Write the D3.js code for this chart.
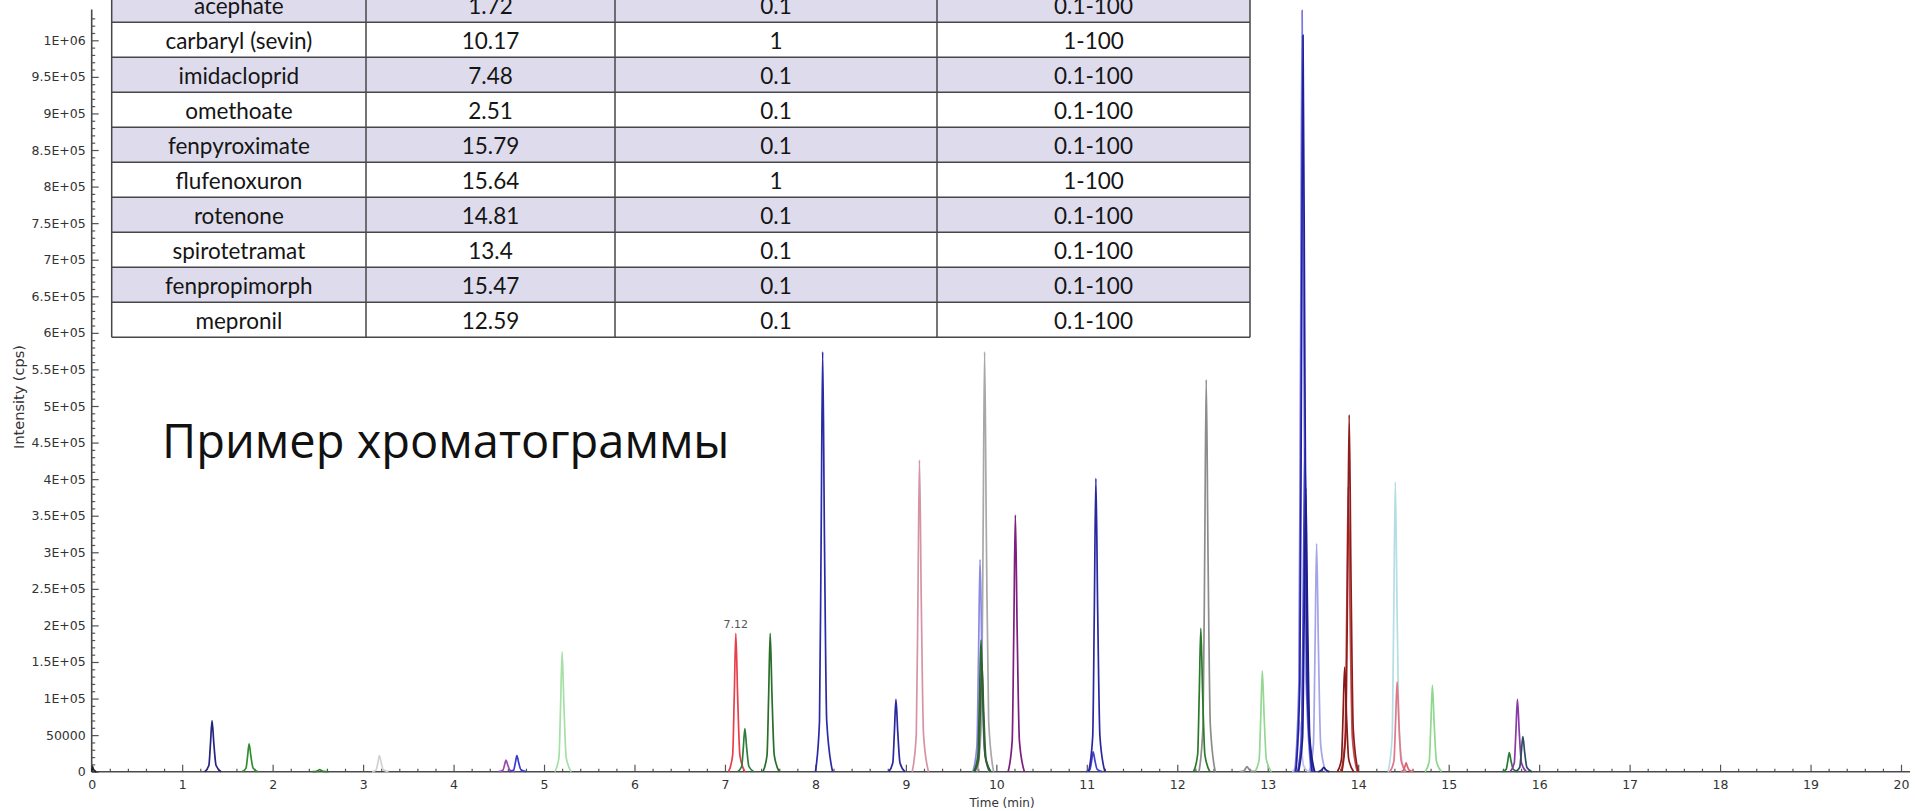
<!DOCTYPE html>
<html>
<head>
<meta charset="utf-8">
<script src="https://cdn.jsdelivr.net/npm/d3@7"></script>
<style>
  body { margin: 0; background: #fff; }
</style>
</head>
<body>
<div id="chart"></div>
<script>
// Table of compounds (the header rows are cut off in the original slide)
const compounds = ["acephate", "carbaryl (sevin)", "imidacloprid", "omethoate", "fenpyroximate",
                   "flufenoxuron", "rotenone", "spirotetramat", "fenpropimorph", "mepronil"];
const retentionTimes = ["1.72", "10.17", "7.48", "2.51", "15.79", "15.64", "14.81", "13.4", "15.47", "12.59"];
const loqValues = ["0.1", "1", "0.1", "0.1", "0.1", "1", "0.1", "0.1", "0.1", "0.1"];
const linearRanges = ["0.1-100", "1-100", "0.1-100", "0.1-100", "0.1-100", "1-100", "0.1-100", "0.1-100", "0.1-100", "0.1-100"];

// Axis ticks
const xTickValues = d3.range(0, 21);
const yTickLabels = ["0", "50000", "1E+05", "1.5E+05", "2E+05", "2.5E+05", "3E+05", "3.5E+05", "4E+05",
                     "4.5E+05", "5E+05", "5.5E+05", "6E+05", "6.5E+05", "7E+05", "7.5E+05", "8E+05",
                     "8.5E+05", "9E+05", "9.5E+05", "1E+06"];

// Annotated peak
const labelTimes = [7.12];
const labelValues = [189e3];

// Chromatogram traces, points: [time (min), intensity (cps)]
const tracePoints = [
  [[0,0],[0.01,7e3],[0.02,3e3],[0.05,0]],
  [[3.10,0],[3.145,2.6e3],[3.163,12.1e3],[3.18,22e3],[3.20,12.1e3],[3.225,2.6e3],[3.28,0]],
  [[5.12,0],[5.165,19.7e3],[5.183,90.2e3],[5.20,164e3],[5.22,90.2e3],[5.245,19.7e3],[5.30,0]],
  [[12.86,0],[12.905,16.6e3],[12.923,75.9e3],[12.94,138e3],[12.96,75.9e3],[12.985,16.6e3],[13.04,0]],
  [[14.74,0],[14.785,14.2e3],[14.803,64.9e3],[14.82,118e3],[14.84,64.9e3],[14.865,14.2e3],[14.92,0]],
  [[14.33,0],[14.375,47.5e3],[14.393,217.8e3],[14.41,396e3],[14.43,217.8e3],[14.455,47.5e3],[14.51,0]],
  [[9.79,0],[9.835,68.9e3],[9.853,315.7e3],[9.87,574e3],[9.89,315.7e3],[9.915,68.9e3],[9.97,0]],
  [[9.07,0],[9.115,51.1e3],[9.133,234.3e3],[9.15,426e3],[9.17,234.3e3],[9.195,51.1e3],[9.25,0]],
  [[13.27,0],[13.315,8.4e3],[13.333,38.5e3],[13.35,70e3],[13.37,38.5e3],[13.395,8.4e3],[13.45,0]],
  [[13.46,0],[13.505,37.4e3],[13.523,171.6e3],[13.54,312e3],[13.56,171.6e3],[13.585,37.4e3],[13.64,0]],
  [[13.30,0],[13.345,124.9e3],[13.363,572.6e3],[13.38,1041e3],[13.40,572.6e3],[13.425,124.9e3],[13.48,0]],
  [[9.74,0],[9.785,34.8e3],[9.803,159.5e3],[9.82,290e3],[9.84,159.5e3],[9.865,34.8e3],[9.92,0]],
  [[1.25,0],[1.295,8.4e3],[1.313,38.5e3],[1.33,70e3],[1.35,38.5e3],[1.375,8.4e3],[1.43,0]],
  [[1.66,0],[1.705,4.6e3],[1.723,20.9e3],[1.74,38e3],[1.76,20.9e3],[1.785,4.6e3],[1.84,0]],
  [[2.44,0],[2.485,0.4e3],[2.503,1.6e3],[2.52,3e3],[2.54,1.6e3],[2.565,0.4e3],[2.62,0]],
  [[4.50,0],[4.545,1.9e3],[4.563,8.8e3],[4.58,16e3],[4.60,8.8e3],[4.625,1.9e3],[4.68,0]],
  [[4.62,0],[4.665,2.6e3],[4.683,12.1e3],[4.70,22e3],[4.72,12.1e3],[4.745,2.6e3],[4.80,0]],
  [[7.04,0],[7.085,22.7e3],[7.103,104e3],[7.12,189e3],[7.14,104e3],[7.165,22.7e3],[7.22,0]],
  [[7.14,0],[7.185,7.1e3],[7.203,32.5e3],[7.22,59e3],[7.24,32.5e3],[7.265,7.1e3],[7.32,0]],
  [[7.42,0],[7.465,22.7e3],[7.483,104e3],[7.50,189e3],[7.52,104e3],[7.545,22.7e3],[7.60,0]],
  [[8.00,0],[8.045,68.9e3],[8.063,315.7e3],[8.08,574e3],[8.10,315.7e3],[8.125,68.9e3],[8.19,0]],
  [[8.81,0],[8.855,11.9e3],[8.873,54.5e3],[8.89,99e3],[8.91,54.5e3],[8.935,11.9e3],[8.99,0]],
  [[9.75,0],[9.795,21.6e3],[9.813,99e3],[9.83,180e3],[9.85,99e3],[9.875,21.6e3],[9.93,0]],
  [[9.76,0],[9.805,18e3],[9.823,82.5e3],[9.84,150e3],[9.86,82.5e3],[9.885,18e3],[9.94,0]],
  [[10.13,0],[10.175,42.1e3],[10.193,193e3],[10.21,351e3],[10.23,193e3],[10.255,42.1e3],[10.31,0]],
  [[10.99,0],[11.035,3.2e3],[11.053,14.9e3],[11.07,27e3],[11.09,14.9e3],[11.115,3.2e3],[11.17,0]],
  [[11.02,0],[11.065,48.1e3],[11.083,220.6e3],[11.10,401e3],[11.12,220.6e3],[11.145,48.1e3],[11.20,0]],
  [[12.24,0],[12.285,64.3e3],[12.303,294.8e3],[12.32,536e3],[12.34,294.8e3],[12.365,64.3e3],[12.42,0]],
  [[12.18,0],[12.225,23.5e3],[12.243,107.8e3],[12.26,196e3],[12.28,107.8e3],[12.305,23.5e3],[12.36,0]],
  [[12.69,0],[12.735,0.8e3],[12.753,3.9e3],[12.77,7e3],[12.79,3.9e3],[12.815,0.8e3],[12.87,0]],
  [[13.33,0],[13.375,53e3],[13.393,243.1e3],[13.41,442e3],[13.43,243.1e3],[13.455,53e3],[13.51,0]],
  [[13.31,0],[13.355,120.8e3],[13.373,553.9e3],[13.39,1007e3],[13.41,553.9e3],[13.435,120.8e3],[13.49,0]],
  [[13.34,0],[13.385,46.6e3],[13.403,213.4e3],[13.42,388e3],[13.44,213.4e3],[13.465,46.6e3],[13.52,0]],
  [[13.56,0],[13.60,3e3],[13.62,6e3],[13.64,3e3],[13.68,0]],
  [[13.81,0],[13.855,46.8e3],[13.873,214.5e3],[13.89,390e3],[13.91,214.5e3],[13.935,46.8e3],[13.99,0]],
  [[13.82,0],[13.865,58.6e3],[13.883,268.4e3],[13.90,488e3],[13.92,268.4e3],[13.945,58.6e3],[14.00,0]],
  [[13.77,0],[13.815,17.2e3],[13.833,78.7e3],[13.85,143e3],[13.87,78.7e3],[13.895,17.2e3],[13.95,0]],
  [[14.35,0],[14.395,14.8e3],[14.413,67.7e3],[14.43,123e3],[14.45,67.7e3],[14.475,14.8e3],[14.53,0]],
  [[14.47,0],[14.50,2e3],[14.515,6.6e3],[14.53,12e3],[14.545,6.6e3],[14.565,2e3],[14.61,0]],
  [[15.59,0],[15.635,3.1e3],[15.653,14.3e3],[15.67,26e3],[15.69,14.3e3],[15.715,3.1e3],[15.77,0]],
  [[15.68,0],[15.725,11.9e3],[15.743,54.5e3],[15.76,99e3],[15.78,54.5e3],[15.805,11.9e3],[15.86,0]],
  [[15.74,0],[15.785,5.8e3],[15.803,26.4e3],[15.82,48e3],[15.84,26.4e3],[15.865,5.8e3],[15.92,0]]
];
const traceColors = [
  "#222222", "#d2d2d2", "#a6e0a6", "#94d894", "#90d890", "#b4dde6", "#a8a8a8", "#d494a6",
  "#c0c0f2", "#a4a4ea", "#7878e4", "#8a8ae6", "#24247e", "#2f8f2f", "#2f7f2f", "#9a4ab0",
  "#3a3ad0", "#e8404a", "#2e7d3a", "#2a6e2a", "#2a2aa8", "#2828a0", "#2a6a2a", "#355e35",
  "#7e1e7e", "#4040d0", "#2828a0", "#8c8c8c", "#2a7a2a", "#888888", "#4848d8", "#20209e",
  "#1e1e8a", "#1e1e8a", "#c05050", "#901c1c", "#8a1818", "#e07888", "#e06070", "#2a7a3a",
  "#8a3aa8", "#2e4e5e"
];

const width = 1915;
const height = 811;

const svg = d3.select("#chart").append("svg")
    .attr("width", width)
    .attr("height", height)
    .style("display", "block")
    .style("background", "#fff");

const x = d3.scaleLinear().domain([0, 20]).range([91.7, 1901]);
const y = d3.scaleLinear().domain([0, 1e6]).range([771.7, 40.3]);

// --- axes ---
const tickFont = "DejaVu Sans, Verdana, sans-serif";

const xAxis = svg.append("g")
    .attr("transform", `translate(0,${y(0)})`)
    .call(d3.axisBottom(x).tickValues(xTickValues).tickSize(-7).tickPadding(8).tickFormat(d3.format("d")));

const xMinor = svg.append("g")
    .attr("transform", `translate(0,${y(0)})`)
    .call(d3.axisBottom(x)
        .tickValues(d3.range(0, 20.01, 0.2).filter(d => Math.abs(d - Math.round(d)) > 0.01))
        .tickSize(-3).tickFormat(""));

const yAxis = svg.append("g")
    .attr("transform", `translate(${x(0)},0)`)
    .call(d3.axisLeft(y).tickValues(d3.range(0, 1e6 + 1, 5e4)).tickSize(-7).tickPadding(6)
        .tickFormat((d, i) => yTickLabels[i]));

const yMinor = svg.append("g")
    .attr("transform", `translate(${x(0)},0)`)
    .call(d3.axisLeft(y)
        .tickValues(d3.range(0, 1.04e6, 1e4).filter(d => d % 5e4 !== 0))
        .tickSize(-3.5).tickFormat(""));

[xAxis, xMinor, yAxis, yMinor].forEach(g => {
    g.select(".domain").remove();
    g.selectAll(".tick line").attr("stroke", "#555").attr("stroke-width", 1.2);
    g.selectAll("text")
        .style("font-family", tickFont)
        .style("font-size", "12.5px")
        .attr("fill", "#333");
});

// axis lines
svg.append("line")
    .attr("x1", x(0)).attr("x2", 1910)
    .attr("y1", y(0)).attr("y2", y(0))
    .attr("stroke", "#4a4a4a").attr("stroke-width", 1.6);
svg.append("line")
    .attr("x1", x(0)).attr("x2", x(0))
    .attr("y1", y(0)).attr("y2", y(1.042e6))
    .attr("stroke", "#4a4a4a").attr("stroke-width", 1.6);

svg.append("text")
    .attr("x", 1002)
    .attr("y", 807)
    .attr("text-anchor", "middle")
    .style("font-family", tickFont)
    .style("font-size", "12px")
    .attr("fill", "#333")
    .text("Time (min)");

svg.append("text")
    .attr("transform", "translate(24,397) rotate(-90)")
    .attr("text-anchor", "middle")
    .style("font-family", tickFont)
    .style("font-size", "14.5px")
    .attr("fill", "#333")
    .text("Intensity (cps)");

// --- chromatogram traces ---
const line = d3.line()
    .x(d => x(d[0]))
    .y(d => y(d[1]))
    .curve(d3.curveMonotoneX);

svg.append("g")
    .selectAll("path")
    .data(tracePoints)
    .join("path")
    .attr("d", line)
    .attr("fill", "none")
    .attr("stroke", (d, i) => traceColors[i])
    .attr("stroke-width", 1.7)
    .attr("stroke-linejoin", "round");

svg.selectAll(".peak-label")
    .data(labelTimes)
    .join("text")
    .attr("class", "peak-label")
    .attr("x", d => x(d))
    .attr("y", (d, i) => y(labelValues[i]) - 5)
    .attr("text-anchor", "middle")
    .style("font-family", tickFont)
    .style("font-size", "11px")
    .attr("fill", "#555")
    .text(d => d.toFixed(2));

// --- table overlay ---
const colEdges = [111.7, 366, 615, 937, 1250];
const rowTop = -12.7;
const rowH = 35;
const columns = [compounds, retentionTimes, loqValues, linearRanges];

const table = svg.append("g");

table.selectAll("rect")
    .data(compounds)
    .join("rect")
    .attr("x", colEdges[0])
    .attr("y", (d, i) => rowTop + i * rowH)
    .attr("width", colEdges[4] - colEdges[0])
    .attr("height", rowH)
    .attr("fill", (d, i) => i % 2 === 0 ? "#dedcec" : "#ffffff");

columns.forEach((col, c) => {
    table.append("g")
        .selectAll("text")
        .data(col)
        .join("text")
        .attr("x", (colEdges[c] + colEdges[c + 1]) / 2)
        .attr("y", (d, i) => rowTop + i * rowH + 27)
        .attr("text-anchor", "middle")
        .style("font-family", "Lato, 'Open Sans', sans-serif")
        .style("font-size", "22.5px")
        .attr("fill", "#151515")
        .text(d => d);
});

// grid lines
table.selectAll(".hline")
    .data(d3.range(1, compounds.length + 1))
    .join("line")
    .attr("class", "hline")
    .attr("x1", colEdges[0]).attr("x2", colEdges[4])
    .attr("y1", d => rowTop + d * rowH).attr("y2", d => rowTop + d * rowH)
    .attr("stroke", "#474747").attr("stroke-width", 1.5);

table.selectAll(".vline")
    .data(colEdges)
    .join("line")
    .attr("class", "vline")
    .attr("x1", d => d).attr("x2", d => d)
    .attr("y1", 0).attr("y2", rowTop + compounds.length * rowH)
    .attr("stroke", "#474747").attr("stroke-width", 1.5);

// --- slide title ---
svg.append("text")
    .attr("x", 162)
    .attr("y", 458)
    .style("font-family", "'Open Sans', 'Noto Sans', sans-serif")
    .style("font-size", "47px")
    .attr("fill", "#111")
    .text("Пример хроматограммы");
</script>
</body>
</html>
